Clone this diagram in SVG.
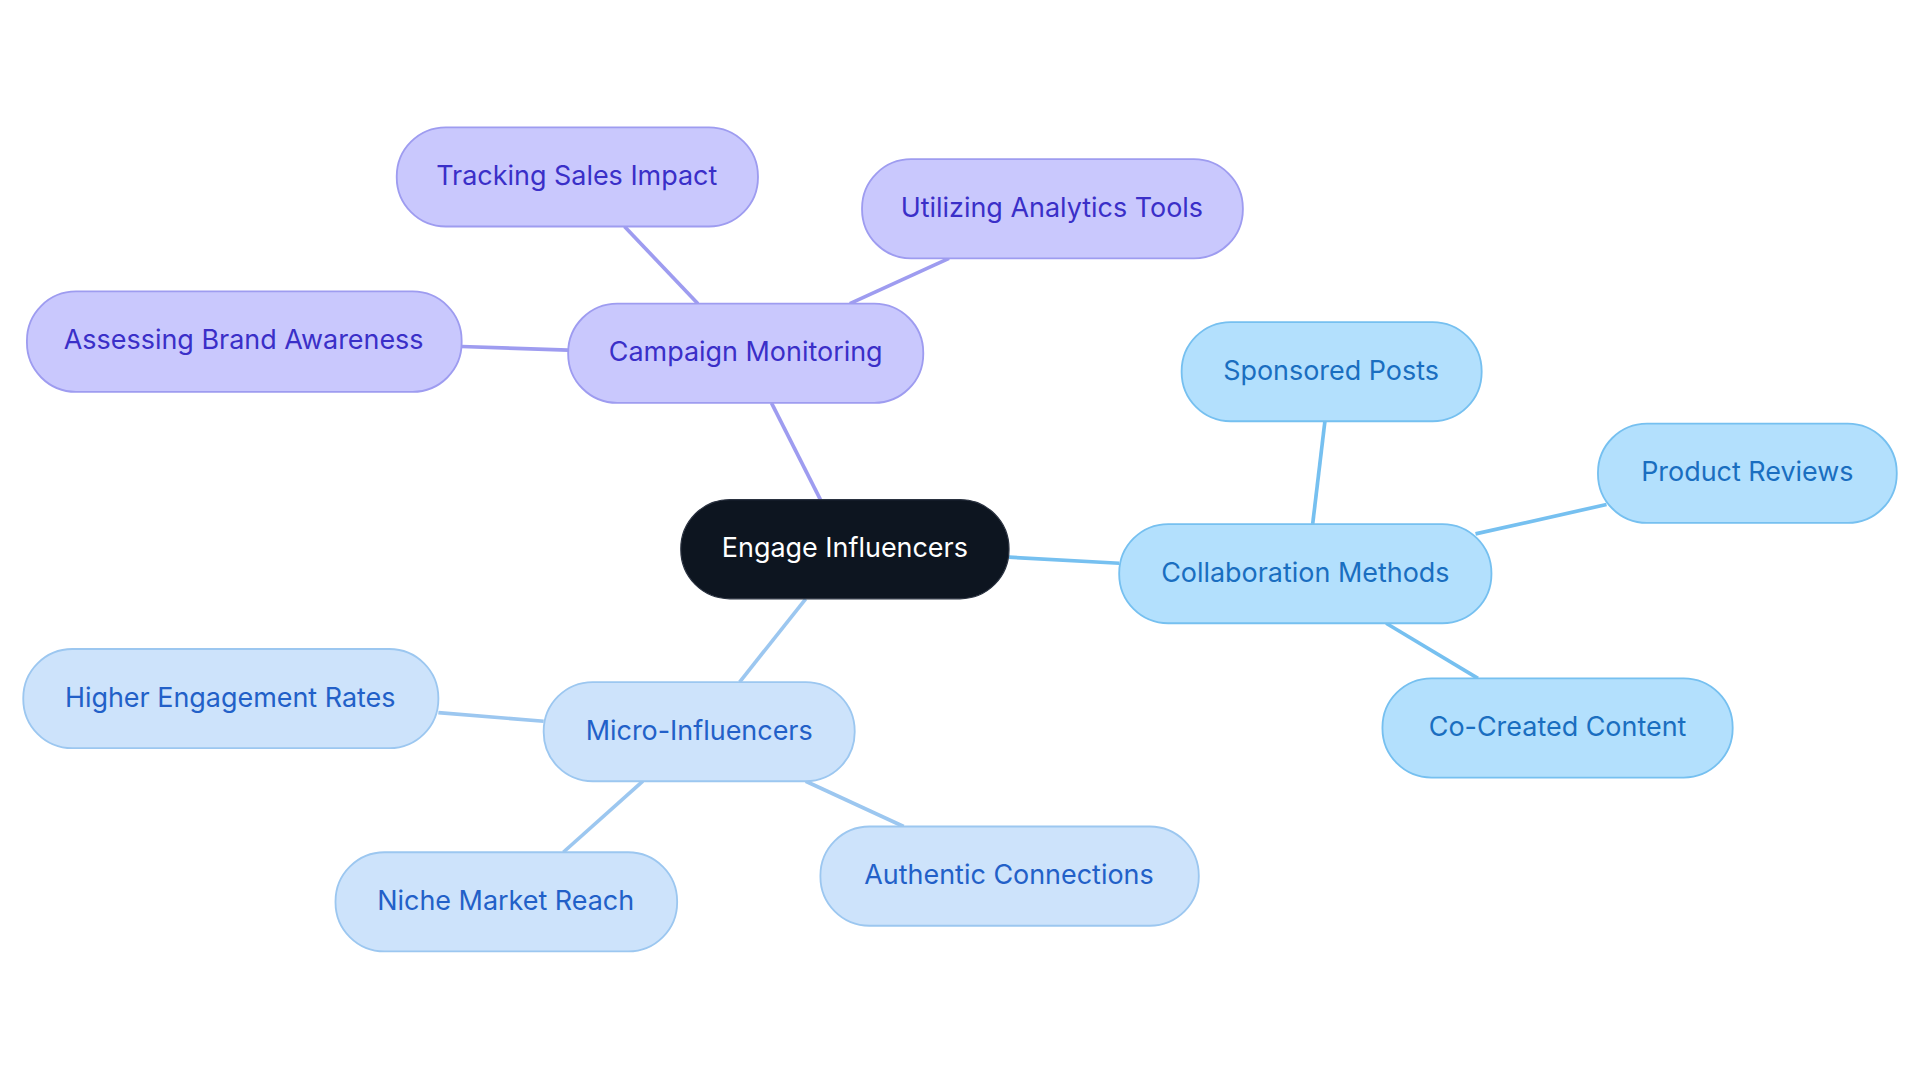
<svg xmlns="http://www.w3.org/2000/svg" width="1920" height="1083" viewBox="0 0 1920 1083">
<style>
text{font-family:"Inter","Liberation Sans",sans-serif;font-size:22px;text-anchor:middle;dominant-baseline:central}
.p rect{fill:#c9c8fd;stroke:#9e9cf0;stroke-width:1.5}.p text{fill:#3a2fc8}
.b rect{fill:#b3e0fd;stroke:#76c0f0;stroke-width:1.5}.b text{fill:#1a6ec0}
.m rect{fill:#cde3fb;stroke:#9cc7f0;stroke-width:1.5}.m text{fill:#2260c8}
.lp{stroke:#9e9cf0}.lb{stroke:#76c0f0}.lm{stroke:#9cc7f0}
</style>
<rect width="1920" height="1083" fill="#fff"/>
<g transform="scale(1.2245)">
<g id="connectors" stroke-width="3" fill="none">
<line class="lp" x1="670" y1="408" x2="630" y2="329"/>
<line class="lp" x1="570" y1="248" x2="510" y2="185"/>
<line class="lp" x1="694" y1="248" x2="775" y2="211"/>
<line class="lp" x1="464" y1="286" x2="377" y2="283"/>
<line class="lb" x1="824" y1="455" x2="914" y2="460"/>
<line class="lb" x1="1072" y1="428" x2="1082" y2="344"/>
<line class="lb" x1="1205" y1="436" x2="1312" y2="412"/>
<line class="lb" x1="1132" y1="509" x2="1207" y2="554"/>
<line class="lm" x1="658" y1="489" x2="604" y2="557"/>
<line class="lm" x1="444" y1="589" x2="358" y2="582"/>
<line class="lm" x1="525" y1="638" x2="460" y2="696"/>
<line class="lm" x1="658" y1="638" x2="738" y2="675"/>
</g>
<g id="n0"><rect x="556" y="408" width="268" height="81" rx="40" fill="#0d1520" stroke="#2a3240"/><text x="690" y="447" fill="#fff">Engage Influencers</text></g>
<g id="n1" class="p"><rect x="464" y="248" width="290" height="81" rx="40"/><text x="609" y="287">Campaign Monitoring</text></g>
<g id="n2" class="p"><rect x="324" y="104" width="295" height="81" rx="40"/><text x="471" y="143">Tracking Sales Impact</text></g>
<g id="n3" class="p"><rect x="704" y="130" width="311" height="81" rx="40"/><text x="859" y="169">Utilizing Analytics Tools</text></g>
<g id="n4" class="p"><rect x="22" y="238" width="355" height="82" rx="40"/><text x="199" y="277">Assessing Brand Awareness</text></g>
<g id="n5" class="b"><rect x="914" y="428" width="304" height="81" rx="40"/><text x="1066" y="467">Collaboration Methods</text></g>
<g id="n6" class="b"><rect x="965" y="263" width="245" height="81" rx="40"/><text x="1087" y="302">Sponsored Posts</text></g>
<g id="n7" class="b"><rect x="1305" y="346" width="244" height="81" rx="40"/><text x="1427" y="385">Product Reviews</text></g>
<g id="n8" class="b"><rect x="1129" y="554" width="286" height="81" rx="40"/><text x="1272" y="593">Co-Created Content</text></g>
<g id="n9" class="m"><rect x="444" y="557" width="254" height="81" rx="40"/><text x="571" y="596">Micro-Influencers</text></g>
<g id="n10" class="m"><rect x="19" y="530" width="339" height="81" rx="40"/><text x="188" y="569">Higher Engagement Rates</text></g>
<g id="n11" class="m"><rect x="274" y="696" width="279" height="81" rx="40"/><text x="413" y="735">Niche Market Reach</text></g>
<g id="n12" class="m"><rect x="670" y="675" width="309" height="81" rx="40"/><text x="824" y="714">Authentic Connections</text></g>
</g>
</svg>
